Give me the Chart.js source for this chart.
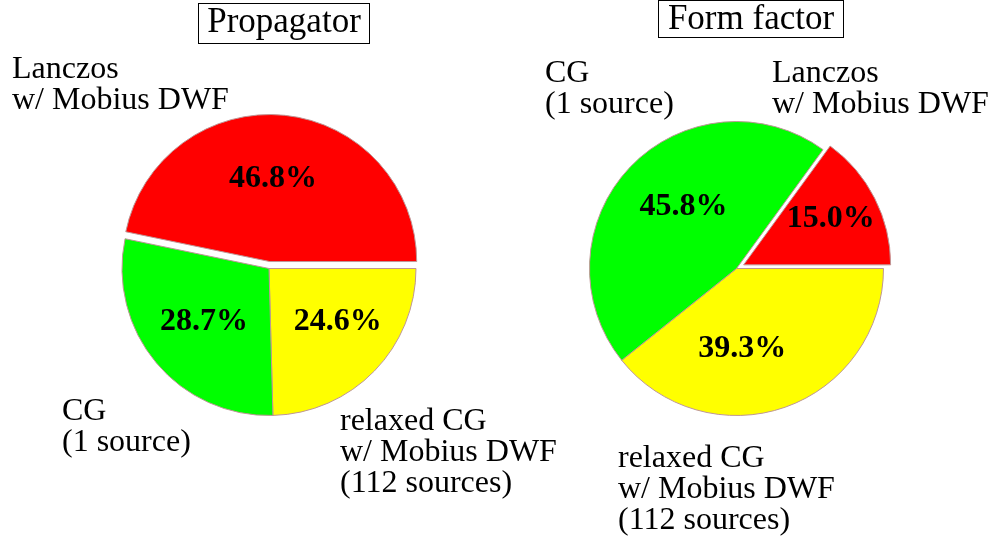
<!DOCTYPE html>
<html>
<head>
<meta charset="utf-8">
<script src="https://cdn.jsdelivr.net/npm/chart.js@4.4.0/dist/chart.umd.min.js"></script>
<style>
    html, body { margin: 0; padding: 0; background: #fff; }
    #wrap { position: relative; width: 995px; height: 544px; }
    #wrap canvas { position: absolute; left: 0; top: 0; }
</style>
</head>
<body>
<div id="wrap">
    <canvas id="propChart" width="995" height="544"></canvas>
    <canvas id="formChart" width="995" height="544"></canvas>
</div>
<script>
// slices in drawing order, clockwise from 3 o'clock
const categories = [
    ['relaxed CG', 'w/ Mobius DWF', '(112 sources)'],
    ['CG', '(1 source)'],
    ['Lanczos', 'w/ Mobius DWF']
];
const propagatorShare = [24.6, 28.7, 46.8];
const formFactorShare = [39.3, 45.8, 15.0];
const sliceColors = ['#ffff00', '#00ff00', '#ff0000'];

const SERIF = '"Liberation Serif", "Times New Roman", "DejaVu Serif", serif';

// explode slices, put percentages inside, names outside, boxed title on top
function makeDecor(cfg) {
    return {
        id: 'pieDecor',
        afterDatasetUpdate(chart, args) {
            const meta = chart.getDatasetMeta(args.index);
            cfg.explode.forEach((d, i) => {
                const arc = meta.data[i];
                if (!arc || !d) return;
                const mid = (arc.startAngle + arc.endAngle) / 2;
                arc.x += Math.cos(mid) * d;
                arc.y += Math.sin(mid) * d;
            });
        },
        afterDraw(chart) {
            const ctx = chart.ctx;
            const meta = chart.getDatasetMeta(0);
            const values = chart.data.datasets[0].data;
            ctx.save();
            ctx.fillStyle = '#000';
            ctx.textBaseline = 'alphabetic';

            // percentages
            ctx.font = 'bold 32px ' + SERIF;
            ctx.textAlign = 'center';
            meta.data.forEach((arc, i) => {
                const n = cfg.nudge[i];
                const a = (arc.startAngle + arc.endAngle) / 2 + n.da * Math.PI / 180;
                const r = arc.outerRadius * n.f;
                ctx.fillText(values[i].toFixed(1) + '%', arc.x + Math.cos(a) * r, arc.y + Math.sin(a) * r + 11);
            });

            // slice names
            ctx.font = '32px ' + SERIF;
            ctx.textAlign = 'left';
            chart.data.labels.forEach((lines, i) => {
                const [x, y] = cfg.labelAt[i];
                lines.forEach((line, k) => ctx.fillText(line, x, y + k * 31));
            });

            // title in a box
            const t = cfg.title;
            ctx.font = '35px ' + SERIF;
            ctx.textAlign = 'center';
            ctx.fillText(t.text, t.x, t.y);
            ctx.lineWidth = 1;
            ctx.strokeStyle = '#000';
            ctx.strokeRect(t.box[0] + 0.5, t.box[1] + 0.5, t.box[2], t.box[3]);
            ctx.restore();
        }
    };
}

function drawPie(canvasId, values, padding, decor) {
    const ctx = document.getElementById(canvasId).getContext('2d');
    return new Chart(ctx, {
        type: 'pie',
        data: {
            labels: categories,
            datasets: [{
                data: values,
                backgroundColor: sliceColors,
                borderColor: 'rgb(190,150,150)',
                borderWidth: 1
            }]
        },
        options: {
            responsive: false,
            animation: false,
            events: [],
            rotation: 90,
            radius: 147,
            layout: { padding: padding },
            plugins: {
                legend: { display: false },
                tooltip: { enabled: false }
            }
        },
        plugins: [makeDecor(decor)]
    });
}

drawPie('propChart', propagatorShare, { left: 0, right: 457, top: 0, bottom: 7 }, {
    explode: [0, 0, 7],
    nudge: [{ f: 0.58, da: -8 }, { f: 0.56, da: 2 }, { f: 0.58, da: -3.6 }],
    labelAt: [[340, 430], [62, 420], [12, 78]],
    title: { text: 'Propagator', x: 284, y: 32, box: [198, 3, 171, 40] }
});

drawPie('formChart', formFactorShare, { left: 478, right: 0, top: 0, bottom: 7 }, {
    explode: [0, 0, 8],
    nudge: [{ f: 0.527, da: 15 }, { f: 0.568, da: 7 }, { f: 0.68, da: -2.4 }],
    labelAt: [[618, 467], [545, 82], [772, 82]],
    title: { text: 'Form factor', x: 751, y: 28.5, box: [658, 0, 185, 37] }
});
</script>
</body>
</html>
